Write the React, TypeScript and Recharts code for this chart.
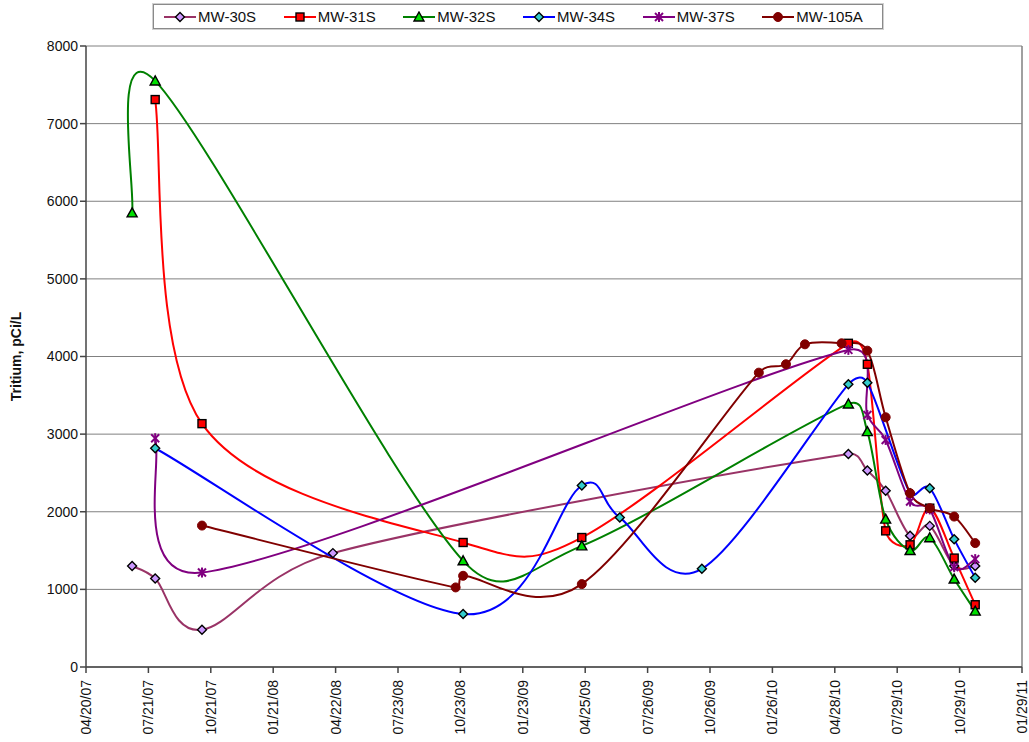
import React from "react"
import { LineChart, Line, XAxis, YAxis, CartesianGrid, ReferenceLine } from "recharts"

// sample dates are Excel serial days, values in pCi/L
const mw30s = [
  { date: 39260, value: 1300 },
  { date: 39294, value: 1140 },
  { date: 39363, value: 480 },
  { date: 39556, value: 1467 },
  { date: 40316, value: 2745 },
  { date: 40344, value: 2530 },
  { date: 40371, value: 2270 },
  { date: 40407, value: 1690 },
  { date: 40436, value: 1818 },
  { date: 40472, value: 1300 },
  { date: 40503, value: 1300 },
]

const mw31s = [
  { date: 39294, value: 7310 },
  { date: 39363, value: 3135 },
  { date: 39748, value: 1604 },
  { date: 39923, value: 1668 },
  { date: 40316, value: 4170 },
  { date: 40344, value: 3900 },
  { date: 40371, value: 1754 },
  { date: 40407, value: 1574 },
  { date: 40436, value: 2046 },
  { date: 40472, value: 1403 },
  { date: 40503, value: 802 },
]

const mw32s = [
  { date: 39260, value: 5850 },
  { date: 39294, value: 7550 },
  { date: 39748, value: 1368 },
  { date: 39923, value: 1561 },
  { date: 40316, value: 3389 },
  { date: 40344, value: 3032 },
  { date: 40371, value: 1905 },
  { date: 40407, value: 1500 },
  { date: 40436, value: 1665 },
  { date: 40472, value: 1133 },
  { date: 40503, value: 720 },
]

const mw34s = [
  { date: 39294, value: 2818 },
  { date: 39748, value: 682 },
  { date: 39923, value: 2338 },
  { date: 39979, value: 1925 },
  { date: 40100, value: 1265 },
  { date: 40316, value: 3642 },
  { date: 40344, value: 3663 },
  { date: 40407, value: 2239 },
  { date: 40436, value: 2304 },
  { date: 40472, value: 1647 },
  { date: 40503, value: 1150 },
]

const mw37s = [
  { date: 39294, value: 2947 },
  { date: 39363, value: 1217 },
  { date: 40316, value: 4085 },
  { date: 40344, value: 3247 },
  { date: 40371, value: 2925 },
  { date: 40407, value: 2131 },
  { date: 40436, value: 2030 },
  { date: 40472, value: 1287 },
  { date: 40503, value: 1390 },
]

const mw105a = [
  { date: 39363, value: 1822 },
  { date: 39737, value: 1025 },
  { date: 39748, value: 1175 },
  { date: 39923, value: 1068 },
  { date: 40184, value: 3792 },
  { date: 40224, value: 3900 },
  { date: 40252, value: 4157 },
  { date: 40306, value: 4170 },
  { date: 40344, value: 4075 },
  { date: 40371, value: 3217 },
  { date: 40407, value: 2239 },
  { date: 40436, value: 2046 },
  { date: 40472, value: 1938 },
  { date: 40503, value: 1596 },
]

const xTicks = [
  39192, 39284, 39376, 39468, 39560, 39652, 39744, 39836,
  39928, 40020, 40112, 40204, 40296, 40388, 40480, 40572,
]
const yTicks = [0, 1000, 2000, 3000, 4000, 5000, 6000, 7000, 8000]

const FONT = '"Liberation Sans", Arial, Helvetica, sans-serif'

type Kind = "diamond" | "square" | "triangle" | "star" | "circle"

const series = [
  { name: "MW-30S", data: mw30s, color: "#993366", fill: "#CC99FF", kind: "diamond" as Kind },
  { name: "MW-31S", data: mw31s, color: "#FF0000", fill: "#FF0000", kind: "square" as Kind },
  { name: "MW-32S", data: mw32s, color: "#008000", fill: "#00E000", kind: "triangle" as Kind },
  { name: "MW-34S", data: mw34s, color: "#0000FF", fill: "#33CCCC", kind: "diamond" as Kind },
  { name: "MW-37S", data: mw37s, color: "#800080", fill: "#800080", kind: "star" as Kind },
  { name: "MW-105A", data: mw105a, color: "#800000", fill: "#800000", kind: "circle" as Kind },
]

function formatSerial(serial: number) {
  const d = new Date((serial - 25569) * 86400000)
  const mm = String(d.getUTCMonth() + 1).padStart(2, "0")
  const dd = String(d.getUTCDate()).padStart(2, "0")
  const yy = String(d.getUTCFullYear() % 100).padStart(2, "0")
  return `${mm}/${dd}/${yy}`
}

// Excel-style smoothed line: Catmull-Rom tangents, with the control arm
// capped at half the segment length so close points don't loop
function excelSmooth(context: any) {
  let xs: number[] = []
  let ys: number[] = []
  const dist = (i: number, j: number) => Math.hypot(xs[j] - xs[i], ys[j] - ys[i])
  return {
    areaStart() {},
    areaEnd() {},
    lineStart() {
      xs = []
      ys = []
    },
    point(x: number, y: number) {
      xs.push(+x)
      ys.push(+y)
    },
    lineEnd() {
      const n = xs.length
      if (!n) return
      context.moveTo(xs[0], ys[0])
      for (let i = 0; i < n - 1; i++) {
        const a = Math.max(i - 1, 0)
        const d = Math.min(i + 2, n - 1)
        const seg = dist(i, i + 1)
        const dA = dist(a, i + 1)
        const dD = dist(i, d)
        const f0 = dA > 0 ? Math.min(1 / 6, (0.5 * seg) / dA) : 0
        const f1 = dD > 0 ? Math.min(1 / 6, (0.5 * seg) / dD) : 0
        context.bezierCurveTo(
          xs[i] + (xs[i + 1] - xs[a]) * f0,
          ys[i] + (ys[i + 1] - ys[a]) * f0,
          xs[i + 1] - (xs[d] - xs[i]) * f1,
          ys[i + 1] - (ys[d] - ys[i]) * f1,
          xs[i + 1],
          ys[i + 1]
        )
      }
    },
  }
}

function marker(kind: Kind, cx: number, cy: number, color: string, fill: string, key?: string) {
  switch (kind) {
    case "diamond":
      return (
        <polygon
          key={key}
          points={`${cx},${cy - 4.5} ${cx + 4.5},${cy} ${cx},${cy + 4.5} ${cx - 4.5},${cy}`}
          fill={fill}
          stroke="#000"
          strokeWidth={1.4}
        />
      )
    case "square":
      return <rect key={key} x={cx - 4} y={cy - 4} width={8} height={8} fill={fill} stroke="#000" strokeWidth={1.4} />
    case "triangle":
      return (
        <polygon
          key={key}
          points={`${cx},${cy - 5} ${cx + 5},${cy + 4} ${cx - 5},${cy + 4}`}
          fill={fill}
          stroke="#000"
          strokeWidth={1.4}
        />
      )
    case "star":
      return (
        <g key={key} stroke={color} strokeWidth={2}>
          <line x1={cx - 4} y1={cy - 4} x2={cx + 4} y2={cy + 4} />
          <line x1={cx - 4} y1={cy + 4} x2={cx + 4} y2={cy - 4} />
          <line x1={cx} y1={cy - 5} x2={cx} y2={cy + 5} />
        </g>
      )
    default:
      return <circle key={key} cx={cx} cy={cy} r={4.5} fill={fill} stroke={color} strokeWidth={1} />
  }
}

function XTick({ x, y, payload }: any) {
  const ty = y + 5
  return (
    <text
      x={x}
      y={ty}
      transform={`rotate(-90, ${x}, ${ty})`}
      textAnchor="end"
      dominantBaseline="central"
      fontSize={14}
      fontFamily={FONT}
      fill="#111"
    >
      {formatSerial(payload.value)}
    </text>
  )
}

function ChartLegend() {
  return (
    <div
      style={{
        position: "absolute",
        left: 153,
        top: 4,
        width: 730,
        height: 25,
        border: "1px solid #8a8a8a",
        boxShadow: "0 0 0 1px #d0d0d0",
        background: "#fff",
        fontFamily: FONT,
        fontSize: 15,
        display: "flex",
        alignItems: "center",
        paddingLeft: 10,
        boxSizing: "border-box",
        zIndex: 2,
      }}
    >
      {series.map((s) => (
        <div key={s.name} style={{ display: "flex", alignItems: "center", width: 123 }}>
          <svg width={32} height={12} style={{ marginRight: 2 }}>
            <line x1={0} y1={6} x2={32} y2={6} stroke={s.color} strokeWidth={2} />
            {marker(s.kind, 16, 6, s.color, s.fill)}
          </svg>
          <span style={{ color: "#111" }}>{s.name}</span>
        </div>
      ))}
    </div>
  )
}

export default function App() {
  return (
    <div style={{ position: "absolute", left: 0, top: 0, width: 1029, height: 742, background: "#fff" }}>
      <ChartLegend />
      <LineChart width={1029} height={742} margin={{ top: 46, right: 7, bottom: 0, left: 0 }}>
        <CartesianGrid vertical={false} stroke="#808080" strokeWidth={1} />
        <XAxis
          type="number"
          dataKey="date"
          domain={[39192, 40572]}
          ticks={xTicks}
          interval={0}
          allowDataOverflow
          height={75}
          tickSize={6}
          tick={<XTick />}
          stroke="#444"
          strokeWidth={1.5}
        />
        <YAxis
          type="number"
          domain={[0, 8000]}
          ticks={yTicks}
          interval={0}
          width={86}
          tickSize={6}
          stroke="#444"
          strokeWidth={1.5}
          tick={{ fontSize: 14, fill: "#111", fontFamily: FONT }}
          label={{
            content: (props: any) => {
              const vb = props.viewBox
              const cy = vb.y + vb.height / 2
              return (
                <text
                  x={16}
                  y={cy}
                  transform={`rotate(-90, 16, ${cy})`}
                  textAnchor="middle"
                  dominantBaseline="central"
                  fontSize={14}
                  fontWeight="bold"
                  fontFamily={FONT}
                  fill="#111"
                >
                  Tritium, pCi/L
                </text>
              )
            },
          }}
        />
        <ReferenceLine x={40572} stroke="#808080" strokeWidth={1.5} />
        {series.map((s) => (
          <Line
            key={s.name}
            data={s.data}
            dataKey="value"
            name={s.name}
            type={excelSmooth as any}
            stroke={s.color}
            strokeWidth={2}
            isAnimationActive={false}
            dot={(p: any) => marker(s.kind, p.cx, p.cy, s.color, s.fill, `${s.name}-${p.index}`)}
            activeDot={false}
          />
        ))}
      </LineChart>
    </div>
  )
}
